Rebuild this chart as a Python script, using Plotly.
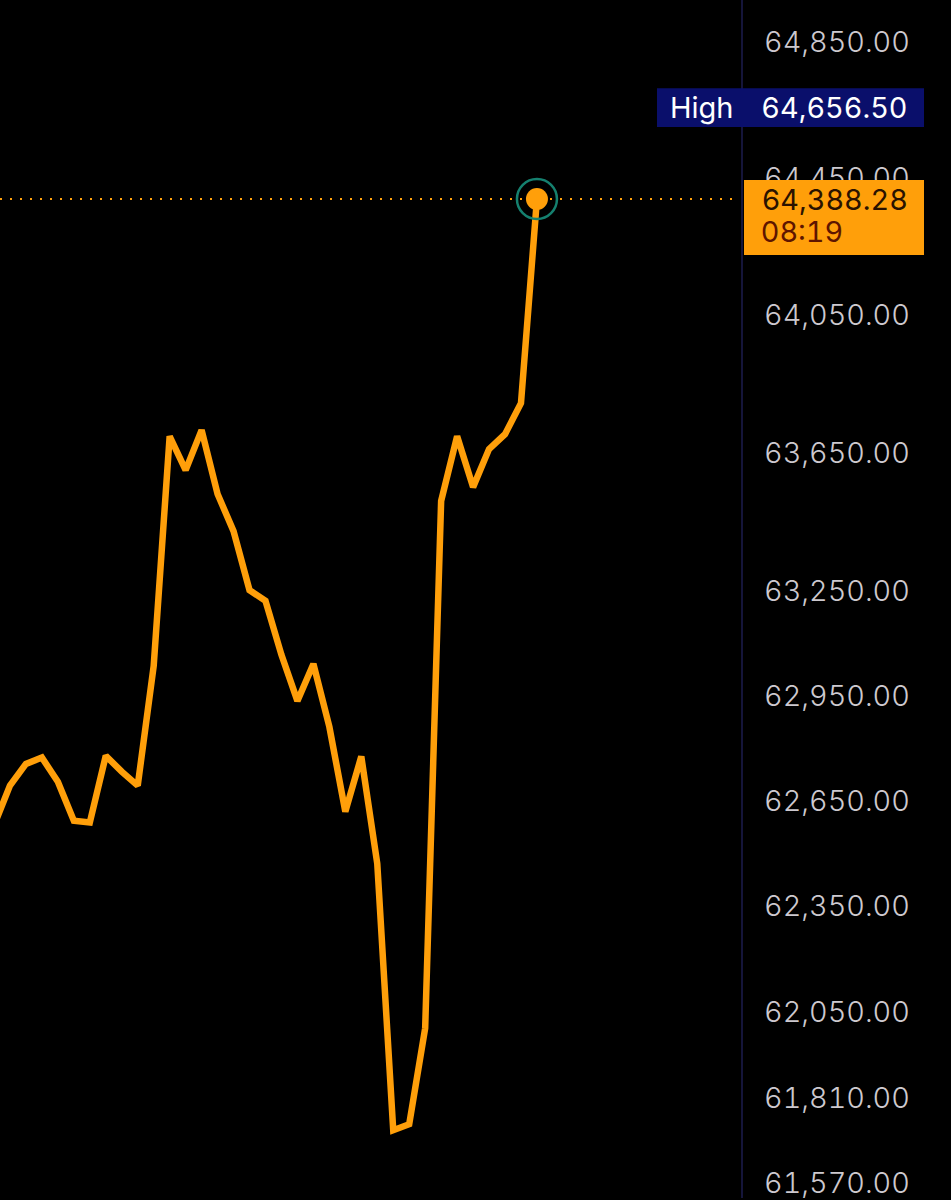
import numpy as np
import plotly.graph_objects as go

# ---- data ----
steps = list(range(35))
price = [62579, 62693, 62755, 62773, 62704, 62593, 62588, 62778, 62733, 62693,
         63035, 63697, 63599, 63715, 63530, 63423, 63253, 63222, 63067, 62935,
         63041, 62861, 62619, 62776, 62471, 61718, 61735, 62005, 63510, 63697,
         63550, 63660, 63703, 63793, 64388.28]
tick_vals = [64850, 64450, 64050, 63650, 63250, 62950, 62650, 62350, 62050, 61810, 61570]
high_value = 64656.50
last_time = "08:19"

W, H = 951, 1200
AX = 742 / W  # right edge of the plotting area / price-scale separator
Y_RANGE = [4.789073, 4.812738]  # log10 range of the price axis

ORANGE = "#FF9F0A"
NAVY = "#0A0F6B"
FONT = "Inter"

last = price[-1]


def paper_y(v, px=0.0):
    """paper y of value v on the log axis, shifted by px pixels (up positive)."""
    return (np.log10(v) - Y_RANGE[0]) / (Y_RANGE[1] - Y_RANGE[0]) + px / H


fig = go.Figure()
fig.add_trace(go.Scatter(x=steps, y=price, mode="lines",
                         line=dict(color=ORANGE, width=6.5), hoverinfo="skip"))
# ring + dot on the last value
fig.add_trace(go.Scatter(x=[steps[-1]], y=[last], mode="markers",
                         marker=dict(size=40, color="rgba(0,0,0,0)",
                                     line=dict(color="#15806F", width=2.5)),
                         hoverinfo="skip"))
fig.add_trace(go.Scatter(x=[steps[-1]], y=[last], mode="markers",
                         marker=dict(size=22, color=ORANGE, line=dict(width=0)),
                         hoverinfo="skip"))

shapes = [
    # dotted last-price line
    dict(type="line", xref="paper", yref="paper", x0=0, x1=AX - 8 / W,
         y0=paper_y(last), y1=paper_y(last),
         line=dict(color=ORANGE, width=2.2, dash="2px,8px"), layer="below"),
    # separator of the price scale
    dict(type="line", xref="paper", yref="paper", x0=AX, x1=AX, y0=0, y1=1,
         line=dict(color="#15153A", width=2), layer="below"),
    # High box
    dict(type="rect", xref="paper", yref="paper",
         x0=657 / W, x1=924 / W, y0=paper_y(high_value, -19.5), y1=paper_y(high_value, 19.5),
         fillcolor=NAVY, line=dict(width=0), layer="above"),
    # last price box
    dict(type="rect", xref="paper", yref="paper",
         x0=744 / W, x1=924 / W, y0=paper_y(last, -56), y1=paper_y(last, 19),
         fillcolor=ORANGE, line=dict(width=0), layer="above"),
]

annotations = [
    dict(xref="paper", yref="paper", x=668 / W, y=paper_y(high_value), text="High",
         showarrow=False, xanchor="left", yanchor="middle",
         font=dict(family=FONT, size=29, color="#FFFFFF")),
    dict(xref="paper", yref="paper", x=763 / W, y=paper_y(high_value), text=f"{high_value:,.2f}",
         showarrow=False, xanchor="left", yanchor="middle",
         font=dict(family=FONT, size=28.8, color="#FFFFFF")),
    dict(xref="paper", yref="paper", x=763 / W, y=paper_y(last), text=f"{last:,.2f}",
         showarrow=False, xanchor="left", yanchor="middle",
         font=dict(family=FONT, size=28.8, color="#2A1200")),
    dict(xref="paper", yref="paper", x=763 / W, y=paper_y(last, -33), text=last_time,
         showarrow=False, xanchor="left", yanchor="middle",
         font=dict(family=FONT, size=28.8, color="#5E1500")),
]

fig.update_layout(
    width=W, height=H,
    margin=dict(l=0, r=0, t=0, b=0),
    paper_bgcolor="#000000", plot_bgcolor="#000000",
    showlegend=False,
    shapes=shapes, annotations=annotations,
    xaxis=dict(domain=[0, AX], range=[0.376, 46.84], visible=False, fixedrange=True),
    yaxis=dict(type="log", range=Y_RANGE, side="right",
               anchor="free", position=AX,
               tickmode="array", tickvals=tick_vals, tickformat=",.2f",
               showgrid=False, zeroline=False, showline=False, ticks="",
               ticklabelstandoff=21, ticklabeloverflow="allow",
               tickfont=dict(family=FONT, size=28.8, color="#CDC9CF", weight=300)),
)

post = (
    "document.body.style.margin='0';document.body.style.background='#000';"
    "var s=document.createElement('style');"
    "s.textContent='svg text{font-feature-settings:\"tnum\" 1;font-variant-numeric:tabular-nums;}';"
    "document.head.appendChild(s);"
)

fig.write_html("out.html", config={"displayModeBar": False}, post_script=post)
